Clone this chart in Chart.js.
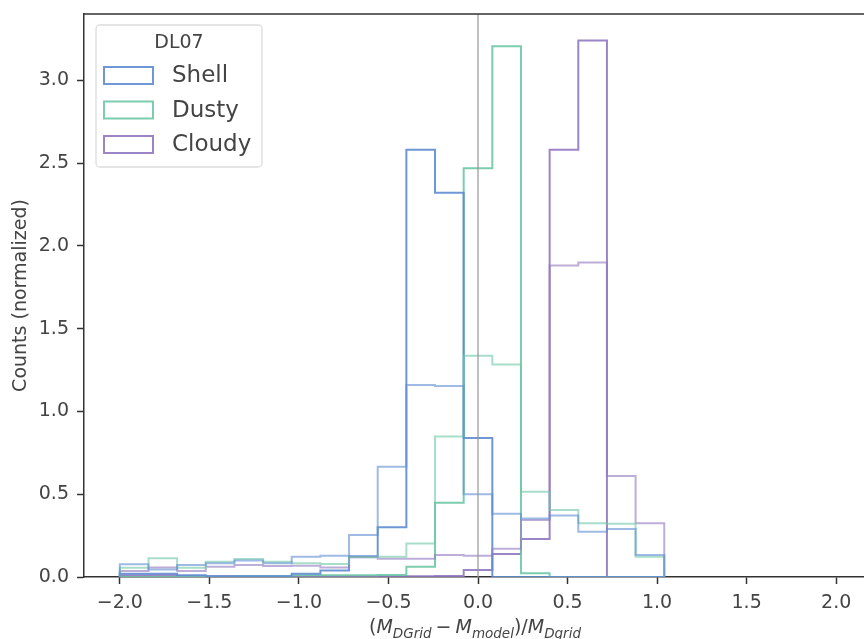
<!DOCTYPE html>
<html>
<head>
<meta charset="utf-8">
<script src="https://cdn.jsdelivr.net/npm/chart.js@4.4.0/dist/chart.umd.min.js"></script>
<style>
  html, body { margin: 0; padding: 0; background: #fff; overflow: hidden; }
  #wrap { position: relative; width: 880px; height: 639px; }
</style>
</head>
<body>
<div id="wrap"><canvas id="histChart" width="880" height="639"></canvas></div>
<script>
// bin edges of the histograms (19 bins)
const binEdges = [-2.0, -1.84, -1.68, -1.52, -1.36, -1.2, -1.04, -0.88, -0.72, -0.56,
  -0.4, -0.24, -0.08, 0.08, 0.24, 0.4, 0.56, 0.72, 0.88, 1.04];

// darker (narrow) histograms
const shellMain  = [0.02, 0.02, 0.01, 0.005, 0.005, 0.005, 0.02, 0.04, 0.125, 0.30, 2.58, 2.32, 0.84, 0, 0, 0, 0, 0, 0];
const dustyMain  = [0, 0, 0, 0, 0.005, 0.005, 0.01, 0.01, 0.01, 0.012, 0.062, 0.449, 2.468, 3.205, 0.022, 0, 0, 0, 0];
const cloudyMain = [0.01, 0.01, 0.005, 0.005, 0.005, 0.005, 0.005, 0.005, 0.005, 0.005, 0.005, 0.006, 0.042, 0.139, 0.229, 2.58, 3.24, 0, 0];

// lighter (broad) histograms
const shellAlt  = [0.077, 0.045, 0.072, 0.083, 0.099, 0.083, 0.123, 0.129, 0.253, 0.666, 1.159, 1.153, 0.50, 0.382, 0.354, 0.372, 0.274, 0.29, 0.133];
const dustyAlt  = [0.056, 0.113, 0.056, 0.092, 0.109, 0.092, 0.083, 0.078, 0.12, 0.123, 0.203, 0.849, 1.336, 1.284, 0.515, 0.404, 0.324, 0.322, 0.123];
const cloudyAlt = [0.036, 0.058, 0.036, 0.062, 0.072, 0.066, 0.068, 0.058, 0.12, 0.11, 0.11, 0.133, 0.129, 0.171, 0.344, 1.881, 1.90, 0.61, 0.324];

const legendLabels = ['Shell', 'Dusty', 'Cloudy'];
const legendTitle = 'DL07';

const FONT = '"DejaVu Sans", sans-serif';
const TXT = '#444';

const blue = [95, 140, 210];
const green = [110, 200, 165];
const purple = [145, 120, 192];
const rgba = (c, a) => 'rgba(' + c[0] + ',' + c[1] + ',' + c[2] + ',' + a + ')';

// step outline: start at zero on the left edge, drop back to zero on the right edge
const stepPoints = (values) => {
  const pts = [{x: binEdges[0], y: 0}];
  values.forEach((v, i) => pts.push({x: binEdges[i], y: v}));
  pts.push({x: binEdges[binEdges.length - 1], y: 0});
  return pts;
};

const mkSet = (label, values, col, alpha) => ({
  label: label,
  data: stepPoints(values),
  borderColor: rgba(col, alpha),
  backgroundColor: 'white',
  borderWidth: 2,
  stepped: 'before',
  pointRadius: 0,
  fill: false
});

const fmtTick = (v) => v.toFixed(1).replace('-', '\u2212');

// vertical line at zero, top spine
const framePlugin = {
  id: 'framePlugin',
  afterDatasetsDraw(chart) {
    const {ctx, chartArea} = chart;
    const x0 = chart.scales.x.getPixelForValue(0);
    ctx.save();
    ctx.strokeStyle = 'rgba(150,150,150,0.6)';
    ctx.lineWidth = 2;
    ctx.beginPath();
    ctx.moveTo(x0, chartArea.bottom);
    ctx.lineTo(x0, chartArea.top);
    ctx.stroke();
    ctx.strokeStyle = '#333';
    ctx.lineWidth = 1.5;
    ctx.beginPath();
    ctx.moveTo(chartArea.left, chartArea.top);
    ctx.lineTo(chartArea.right, chartArea.top);
    ctx.lineTo(chartArea.right, chartArea.bottom);
    ctx.stroke();
    ctx.restore();
  }
};

// boxed legend with title, in the upper left corner
const legendPlugin = {
  id: 'legendPlugin',
  afterDraw(chart) {
    const {ctx, chartArea} = chart;
    const bx = chartArea.left + 12, by = chartArea.top + 11, bw = 166, bh = 142;
    ctx.save();
    ctx.beginPath();
    ctx.roundRect(bx, by, bw, bh, 4);
    ctx.fillStyle = 'rgba(255,255,255,0.8)';
    ctx.fill();
    ctx.strokeStyle = '#dcdcdc';
    ctx.lineWidth = 1.3;
    ctx.stroke();

    ctx.fillStyle = TXT;
    ctx.textBaseline = 'middle';
    ctx.textAlign = 'center';
    ctx.font = '19px ' + FONT;
    ctx.fillText(legendTitle, bx + bw / 2, by + 18.5);

    ctx.textAlign = 'left';
    ctx.font = '23px ' + FONT;
    legendLabels.forEach((lab, i) => {
      const ds = chart.data.datasets.find(d => d.label === lab);
      const cy = by + 50.5 + i * 34.5;
      ctx.fillStyle = 'white';
      ctx.fillRect(bx + 8, cy - 8.5, 49, 17);
      ctx.strokeStyle = ds.borderColor;
      ctx.lineWidth = 2;
      ctx.strokeRect(bx + 8, cy - 8.5, 49, 17);
      ctx.fillStyle = TXT;
      ctx.fillText(lab, bx + 76, cy + 1);
    });
    ctx.restore();
  }
};

// x axis title with math subscripts
const xTitlePlugin = {
  id: 'xTitlePlugin',
  afterDraw(chart) {
    const {ctx, chartArea} = chart;
    const parts = [
      {t: '(', f: 'n'}, {t: 'M', f: 'i'}, {t: 'DGrid', f: 's'},
      {t: '\u2212', f: 'n', pad: 4}, {t: 'M', f: 'i'}, {t: 'model', f: 's'},
      {t: ')/', f: 'n'}, {t: 'M', f: 'i'}, {t: 'Dgrid', f: 's'}
    ];
    const fonts = {n: '19px ' + FONT, i: 'italic 19px ' + FONT, s: 'italic 13.5px ' + FONT};
    ctx.save();
    let total = 0;
    parts.forEach(p => {
      ctx.font = fonts[p.f];
      p.w = ctx.measureText(p.t).width + 2 * (p.pad || 0);
      total += p.w;
    });
    let x = (chartArea.left + chartArea.right) / 2 - 3 - total / 2;
    const base = 633;
    ctx.fillStyle = TXT;
    ctx.textBaseline = 'alphabetic';
    ctx.textAlign = 'left';
    parts.forEach(p => {
      ctx.font = fonts[p.f];
      ctx.fillText(p.t, x + (p.pad || 0), p.f === 's' ? base + 4.5 : base);
      x += p.w;
    });
    ctx.restore();
  }
};

new Chart(document.getElementById('histChart'), {
  type: 'line',
  data: {
    datasets: [
      mkSet('Shell (all)', shellAlt, blue, 0.6),
      mkSet('Dusty (all)', dustyAlt, green, 0.6),
      mkSet('Cloudy (all)', cloudyAlt, purple, 0.6),
      mkSet('Shell', shellMain, blue, 0.9),
      mkSet('Dusty', dustyMain, green, 0.9),
      mkSet('Cloudy', cloudyMain, purple, 0.9)
    ]
  },
  options: {
    responsive: false,
    animation: false,
    layout: { padding: { left: 0, right: 8, top: 14, bottom: 0 } },
    plugins: {
      legend: { display: false },
      tooltip: { enabled: false }
    },
    scales: {
      x: {
        type: 'linear',
        min: -2.2,
        max: 2.2,
        grid: { drawOnChartArea: false, drawTicks: true, tickLength: 7, tickColor: '#333', tickWidth: 1.5 },
        border: { display: true, color: '#333', width: 1.5 },
        ticks: {
          stepSize: 0.5, includeBounds: false, autoSkip: false, maxRotation: 0,
          color: TXT, font: { family: FONT, size: 19 }, padding: 8,
          callback: (v) => fmtTick(v)
        },
        afterFit: (s) => { s.height = 62; s.paddingLeft = 0; s.paddingRight = 0; }
      },
      y: {
        min: 0,
        max: 3.4,
        grid: { drawOnChartArea: false, drawTicks: true, tickLength: 7, tickColor: '#333', tickWidth: 1.5 },
        border: { display: true, color: '#333', width: 1.5 },
        ticks: {
          stepSize: 0.5, includeBounds: false, color: TXT,
          font: { family: FONT, size: 19 }, padding: 8,
          callback: (v) => fmtTick(v)
        },
        title: {
          display: true, text: 'Counts (normalized)', color: TXT,
          font: { family: FONT, size: 19 }, padding: { top: 10, bottom: 0 }
        },
        afterFit: (s) => { s.width = 84; s.paddingTop = 0; s.paddingBottom = 0; }
      }
    }
  },
  plugins: [framePlugin, legendPlugin, xTitlePlugin]
});
</script>
</body>
</html>
